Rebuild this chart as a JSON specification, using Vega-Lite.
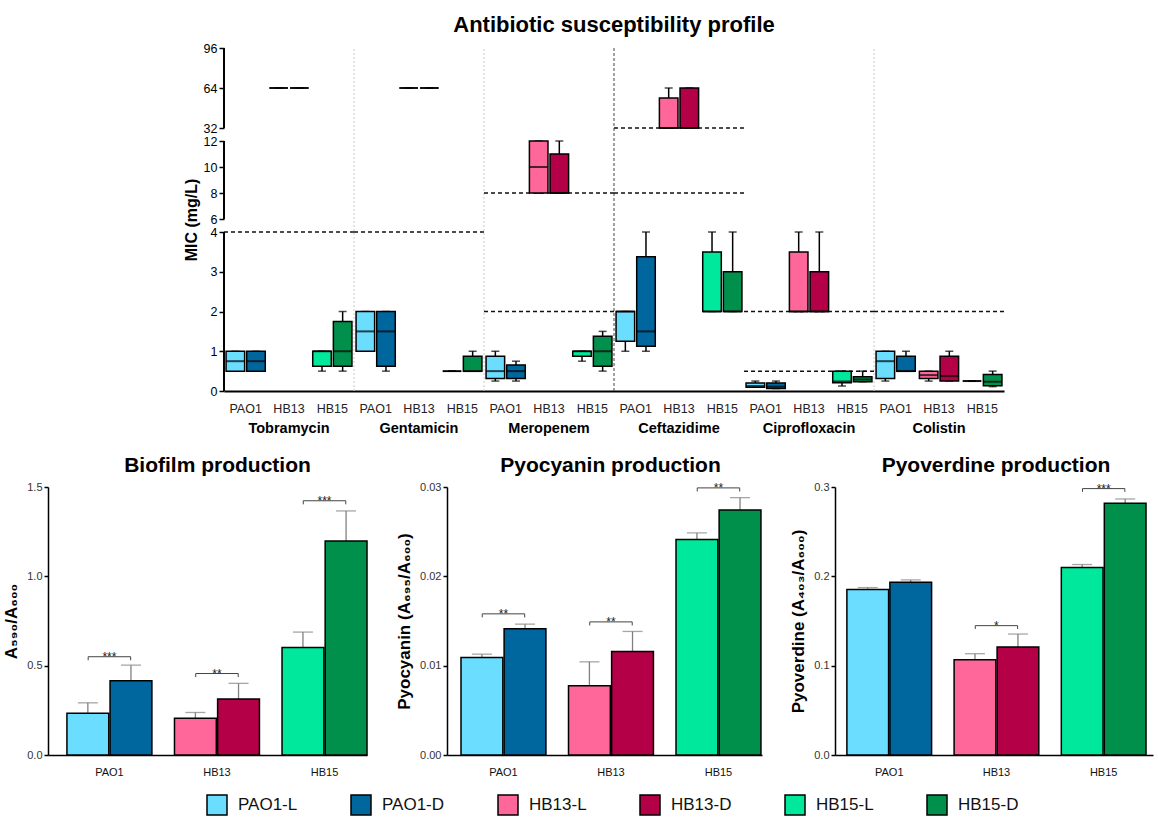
{
  "$schema": "https://vega.github.io/schema/vega-lite/v6.json",
  "padding": {"left": 2, "top": 14, "right": 2, "bottom": 2},
  "config": {
    "view": {"stroke": null},
    "font": "Liberation Sans",
    "axis": {"grid": false, "domainColor": "#000", "tickColor": "#000", "labelColor": "#1a1a1a", "titleColor": "#000", "labelFont": "Liberation Sans", "titleFont": "Liberation Sans", "titleFontWeight": "bold"},
    "title": {"font": "Liberation Sans", "fontWeight": "bold", "color": "#000", "anchor": "middle"}
  },
  "datasets": {
    "seps": [{"antibiotic": "Gentamicin"}, {"antibiotic": "Meropenem"}, {"antibiotic": "Ceftazidime"}, {"antibiotic": "Colistin"}],
    "breakpoints": [
      {"antibiotic": "Tobramycin", "value": 4}, {"antibiotic": "Gentamicin", "value": 4},
      {"antibiotic": "Meropenem", "value": 2}, {"antibiotic": "Meropenem", "value": 8},
      {"antibiotic": "Ceftazidime", "value": 8}, {"antibiotic": "Ceftazidime", "value": 32},
      {"antibiotic": "Ciprofloxacin", "value": 0.5}, {"antibiotic": "Ciprofloxacin", "value": 2},
      {"antibiotic": "Colistin", "value": 2}
    ],
    "segments": [{"lo": 0, "hi": 4}, {"lo": 6, "hi": 12}, {"lo": 32, "hi": 96}],
    "mic": [
      {"key": "Tobramycin|PAO1", "cond": "L", "group": "PAO1-L", "lo": 0.5, "q1": 0.5, "med": 0.75, "q3": 1, "hi": 1},
      {"key": "Tobramycin|PAO1", "cond": "D", "group": "PAO1-D", "lo": 0.5, "q1": 0.5, "med": 0.75, "q3": 1, "hi": 1},
      {"key": "Tobramycin|HB13", "cond": "L", "group": "HB13-L", "lo": 64, "q1": 64, "med": 64, "q3": 64, "hi": 64},
      {"key": "Tobramycin|HB13", "cond": "D", "group": "HB13-D", "lo": 64, "q1": 64, "med": 64, "q3": 64, "hi": 64},
      {"key": "Tobramycin|HB15", "cond": "L", "group": "HB15-L", "lo": 0.5, "q1": 0.625, "med": 1, "q3": 1, "hi": 1},
      {"key": "Tobramycin|HB15", "cond": "D", "group": "HB15-D", "lo": 0.5, "q1": 0.625, "med": 1, "q3": 1.75, "hi": 2},
      {"key": "Gentamicin|PAO1", "cond": "L", "group": "PAO1-L", "lo": 1, "q1": 1, "med": 1.5, "q3": 2, "hi": 2},
      {"key": "Gentamicin|PAO1", "cond": "D", "group": "PAO1-D", "lo": 0.5, "q1": 0.625, "med": 1.5, "q3": 2, "hi": 2},
      {"key": "Gentamicin|HB13", "cond": "L", "group": "HB13-L", "lo": 64, "q1": 64, "med": 64, "q3": 64, "hi": 64},
      {"key": "Gentamicin|HB13", "cond": "D", "group": "HB13-D", "lo": 64, "q1": 64, "med": 64, "q3": 64, "hi": 64},
      {"key": "Gentamicin|HB15", "cond": "L", "group": "HB15-L", "lo": 0.5, "q1": 0.5, "med": 0.5, "q3": 0.5, "hi": 0.5},
      {"key": "Gentamicin|HB15", "cond": "D", "group": "HB15-D", "lo": 0.5, "q1": 0.5, "med": 0.5, "q3": 0.875, "hi": 1},
      {"key": "Meropenem|PAO1", "cond": "L", "group": "PAO1-L", "lo": 0.25, "q1": 0.3125, "med": 0.5, "q3": 0.875, "hi": 1},
      {"key": "Meropenem|PAO1", "cond": "D", "group": "PAO1-D", "lo": 0.25, "q1": 0.3125, "med": 0.5, "q3": 0.656, "hi": 0.75},
      {"key": "Meropenem|HB13", "cond": "L", "group": "HB13-L", "lo": 8, "q1": 8, "med": 10, "q3": 12, "hi": 12},
      {"key": "Meropenem|HB13", "cond": "D", "group": "HB13-D", "lo": 8, "q1": 8, "med": 8, "q3": 11, "hi": 12},
      {"key": "Meropenem|HB15", "cond": "L", "group": "HB15-L", "lo": 0.75, "q1": 0.875, "med": 1, "q3": 1, "hi": 1},
      {"key": "Meropenem|HB15", "cond": "D", "group": "HB15-D", "lo": 0.5, "q1": 0.625, "med": 1, "q3": 1.375, "hi": 1.5},
      {"key": "Ceftazidime|PAO1", "cond": "L", "group": "PAO1-L", "lo": 1, "q1": 1.25, "med": 2, "q3": 2, "hi": 2},
      {"key": "Ceftazidime|PAO1", "cond": "D", "group": "PAO1-D", "lo": 1, "q1": 1.125, "med": 1.5, "q3": 3.375, "hi": 4},
      {"key": "Ceftazidime|HB13", "cond": "L", "group": "HB13-L", "lo": 32, "q1": 32, "med": 32, "q3": 56, "hi": 64},
      {"key": "Ceftazidime|HB13", "cond": "D", "group": "HB13-D", "lo": 32, "q1": 32, "med": 32, "q3": 64, "hi": 64},
      {"key": "Ceftazidime|HB15", "cond": "L", "group": "HB15-L", "lo": 2, "q1": 2, "med": 2, "q3": 3.5, "hi": 4},
      {"key": "Ceftazidime|HB15", "cond": "D", "group": "HB15-D", "lo": 2, "q1": 2, "med": 2, "q3": 3, "hi": 4},
      {"key": "Ciprofloxacin|PAO1", "cond": "L", "group": "PAO1-L", "lo": 0.094, "q1": 0.094, "med": 0.125, "q3": 0.203, "hi": 0.25},
      {"key": "Ciprofloxacin|PAO1", "cond": "D", "group": "PAO1-D", "lo": 0.0625, "q1": 0.0625, "med": 0.109, "q3": 0.203, "hi": 0.25},
      {"key": "Ciprofloxacin|HB13", "cond": "L", "group": "HB13-L", "lo": 2, "q1": 2, "med": 2, "q3": 3.5, "hi": 4},
      {"key": "Ciprofloxacin|HB13", "cond": "D", "group": "HB13-D", "lo": 2, "q1": 2, "med": 2, "q3": 3, "hi": 4},
      {"key": "Ciprofloxacin|HB15", "cond": "L", "group": "HB15-L", "lo": 0.125, "q1": 0.21, "med": 0.24, "q3": 0.5, "hi": 0.5},
      {"key": "Ciprofloxacin|HB15", "cond": "D", "group": "HB15-D", "lo": 0.233, "q1": 0.233, "med": 0.29, "q3": 0.36, "hi": 0.5},
      {"key": "Colistin|PAO1", "cond": "L", "group": "PAO1-L", "lo": 0.25, "q1": 0.3125, "med": 0.75, "q3": 1, "hi": 1},
      {"key": "Colistin|PAO1", "cond": "D", "group": "PAO1-D", "lo": 0.5, "q1": 0.5, "med": 0.5, "q3": 0.875, "hi": 1},
      {"key": "Colistin|HB13", "cond": "L", "group": "HB13-L", "lo": 0.25, "q1": 0.3125, "med": 0.4, "q3": 0.5, "hi": 0.5},
      {"key": "Colistin|HB13", "cond": "D", "group": "HB13-D", "lo": 0.25, "q1": 0.25, "med": 0.375, "q3": 0.875, "hi": 1},
      {"key": "Colistin|HB15", "cond": "L", "group": "HB15-L", "lo": 0.25, "q1": 0.25, "med": 0.25, "q3": 0.25, "hi": 0.25},
      {"key": "Colistin|HB15", "cond": "D", "group": "HB15-D", "lo": 0.11, "q1": 0.133, "med": 0.233, "q3": 0.417, "hi": 0.5}
    ],
    "biofilm": [
      {"strain": "PAO1", "cond": "L", "group": "PAO1-L", "mean": 0.233, "upper": 0.292},
      {"strain": "PAO1", "cond": "D", "group": "PAO1-D", "mean": 0.416, "upper": 0.503},
      {"strain": "HB13", "cond": "L", "group": "HB13-L", "mean": 0.206, "upper": 0.238},
      {"strain": "HB13", "cond": "D", "group": "HB13-D", "mean": 0.313, "upper": 0.401},
      {"strain": "HB15", "cond": "L", "group": "HB15-L", "mean": 0.602, "upper": 0.688},
      {"strain": "HB15", "cond": "D", "group": "HB15-D", "mean": 1.198, "upper": 1.366}
    ],
    "sig_biofilm": [
      {"strain": "PAO1", "y": 0.55, "foot": 0.53, "stars": "***"},
      {"strain": "HB13", "y": 0.456, "foot": 0.436, "stars": "**"},
      {"strain": "HB15", "y": 1.423, "foot": 1.403, "stars": "***"}
    ],
    "pyocyanin": [
      {"strain": "PAO1", "cond": "L", "group": "PAO1-L", "mean": 0.01092, "upper": 0.01129},
      {"strain": "PAO1", "cond": "D", "group": "PAO1-D", "mean": 0.01412, "upper": 0.01465},
      {"strain": "HB13", "cond": "L", "group": "HB13-L", "mean": 0.00775, "upper": 0.01043},
      {"strain": "HB13", "cond": "D", "group": "HB13-D", "mean": 0.01159, "upper": 0.01383},
      {"strain": "HB15", "cond": "L", "group": "HB15-L", "mean": 0.02411, "upper": 0.02486},
      {"strain": "HB15", "cond": "D", "group": "HB15-D", "mean": 0.02743, "upper": 0.02881}
    ],
    "sig_pyocyanin": [
      {"strain": "PAO1", "y": 0.0158, "foot": 0.0154, "stars": "**"},
      {"strain": "HB13", "y": 0.0149, "foot": 0.0145, "stars": "**"},
      {"strain": "HB15", "y": 0.0299, "foot": 0.0295, "stars": "**"}
    ],
    "pyoverdine": [
      {"strain": "PAO1", "cond": "L", "group": "PAO1-L", "mean": 0.1852, "upper": 0.1874},
      {"strain": "PAO1", "cond": "D", "group": "PAO1-D", "mean": 0.1934, "upper": 0.196},
      {"strain": "HB13", "cond": "L", "group": "HB13-L", "mean": 0.1066, "upper": 0.1134},
      {"strain": "HB13", "cond": "D", "group": "HB13-D", "mean": 0.1208, "upper": 0.1354},
      {"strain": "HB15", "cond": "L", "group": "HB15-L", "mean": 0.2099, "upper": 0.2132},
      {"strain": "HB15", "cond": "D", "group": "HB15-D", "mean": 0.2817, "upper": 0.2866}
    ],
    "sig_pyoverdine": [
      {"strain": "HB13", "y": 0.1448, "foot": 0.1411, "stars": "*"},
      {"strain": "HB15", "y": 0.2982, "foot": 0.2945, "stars": "***"}
    ]
  },
  "resolve": {"scale": {"xOffset": "independent"}},
  "spacing": 20,
  "vconcat": [
    {
      "spacing": 0,
      "hconcat": [
        {"width": 135, "height": 10, "data": {"values": []}, "mark": "point", "encoding": {}},
        {
          "width": 780, "height": 343,
          "title": {"text": "Antibiotic susceptibility profile", "fontSize": 22, "offset": 5},
          "resolve": {"scale": {"x": "independent"}, "axis": {"x": "independent"}},
          "layer": [
            {
              "data": {"name": "seps"},
              "transform": [{"filter": "datum.antibiotic != 'Ceftazidime'"}],
              "mark": {"type": "rule", "color": "#c8c8c8", "strokeWidth": 1, "strokeDash": [2, 2]},
              "encoding": {
                "x": {"field": "antibiotic", "type": "nominal", "bandPosition": 0, "scale": {"domain": ["Tobramycin", "Gentamicin", "Meropenem", "Ceftazidime", "Ciprofloxacin", "Colistin"], "paddingInner": 0, "paddingOuter": 0}, "axis": {"orient": "bottom", "title": null, "domain": false, "ticks": false, "labelAngle": 0, "labelPadding": 30, "labelFontSize": 14.5, "labelFontWeight": "bold", "labelColor": "#000"}},
                "y": {"datum": 0, "type": "quantitative", "scale": {"domain": [0, 4, 6, 12, 32, 96], "range": [343, 184, 171, 93, 80, 0], "nice": false, "zero": false}, "axis": {"values": [0, 1, 2, 3, 4, 6, 8, 10, 12, 32, 64, 96], "title": "MIC (mg/L)", "domain": false, "tickSize": 5, "tickWidth": 1.5, "labelPadding": 2, "labelFontSize": 12.5, "labelColor": "#000", "labelOverlap": false, "titleFontSize": 16, "titlePadding": 4}},
                "y2": {"datum": 96}
              }
            },
            {
              "data": {"name": "seps"},
              "transform": [{"filter": "datum.antibiotic == 'Ceftazidime'"}],
              "mark": {"type": "rule", "color": "#444", "strokeWidth": 1, "strokeDash": [3, 2]},
              "encoding": {
                "x": {"field": "antibiotic", "type": "nominal", "bandPosition": 0, "scale": {"domain": ["Tobramycin", "Gentamicin", "Meropenem", "Ceftazidime", "Ciprofloxacin", "Colistin"], "paddingInner": 0, "paddingOuter": 0}, "axis": null},
                "y": {"datum": 0, "type": "quantitative", "scale": {"domain": [0, 4, 6, 12, 32, 96], "range": [343, 184, 171, 93, 80, 0], "nice": false, "zero": false}, "axis": {"values": [0, 1, 2, 3, 4, 6, 8, 10, 12, 32, 64, 96], "title": "MIC (mg/L)", "domain": false, "tickSize": 5, "tickWidth": 1.5, "labelPadding": 2, "labelFontSize": 12.5, "labelColor": "#000", "labelOverlap": false, "titleFontSize": 16, "titlePadding": 4}},
                "y2": {"datum": 96}
              }
            },
            {
              "data": {"name": "breakpoints"},
              "mark": {"type": "rule", "color": "#111", "strokeWidth": 1.5, "strokeDash": [4, 3]},
              "encoding": {
                "x": {"field": "antibiotic", "type": "nominal", "bandPosition": 0, "scale": {"domain": ["Tobramycin", "Gentamicin", "Meropenem", "Ceftazidime", "Ciprofloxacin", "Colistin"], "paddingInner": 0, "paddingOuter": 0}, "axis": null},
                "x2": {"field": "antibiotic", "bandPosition": 1},
                "y": {"field": "value", "type": "quantitative", "scale": {"domain": [0, 4, 6, 12, 32, 96], "range": [343, 184, 171, 93, 80, 0], "nice": false, "zero": false}, "axis": {"values": [0, 1, 2, 3, 4, 6, 8, 10, 12, 32, 64, 96], "title": "MIC (mg/L)", "domain": false, "tickSize": 5, "tickWidth": 1.5, "labelPadding": 2, "labelFontSize": 12.5, "labelColor": "#000", "labelOverlap": false, "titleFontSize": 16, "titlePadding": 4}}
              }
            },
            {
              "data": {"name": "segments"},
              "mark": {"type": "rule", "color": "#000", "strokeWidth": 2},
              "encoding": {
                "x": {"datum": "Tobramycin", "type": "nominal", "bandPosition": 0, "scale": {"domain": ["Tobramycin", "Gentamicin", "Meropenem", "Ceftazidime", "Ciprofloxacin", "Colistin"], "paddingInner": 0, "paddingOuter": 0}, "axis": null},
                "y": {"field": "lo", "type": "quantitative", "scale": {"domain": [0, 4, 6, 12, 32, 96], "range": [343, 184, 171, 93, 80, 0], "nice": false, "zero": false}, "axis": {"values": [0, 1, 2, 3, 4, 6, 8, 10, 12, 32, 64, 96], "title": "MIC (mg/L)", "domain": false, "tickSize": 5, "tickWidth": 1.5, "labelPadding": 2, "labelFontSize": 12.5, "labelColor": "#000", "labelOverlap": false, "titleFontSize": 16, "titlePadding": 4}},
                "y2": {"field": "hi"}
              }
            },
            {
              "data": {"name": "mic"},
              "mark": {"type": "rule", "color": "#000", "strokeWidth": 1.5},
              "encoding": {
                "x": {"field": "key", "type": "nominal", "scale": {"domain": ["Tobramycin|PAO1", "Tobramycin|HB13", "Tobramycin|HB15", "Gentamicin|PAO1", "Gentamicin|HB13", "Gentamicin|HB15", "Meropenem|PAO1", "Meropenem|HB13", "Meropenem|HB15", "Ceftazidime|PAO1", "Ceftazidime|HB13", "Ceftazidime|HB15", "Ciprofloxacin|PAO1", "Ciprofloxacin|HB13", "Ciprofloxacin|HB15", "Colistin|PAO1", "Colistin|HB13", "Colistin|HB15"], "paddingInner": 0, "paddingOuter": 0}, "axis": null},
                "xOffset": {"field": "cond", "type": "nominal", "scale": {"domain": ["L", "D"], "paddingInner": 0.1, "paddingOuter": 0.1}},
                "y": {"field": "lo", "type": "quantitative", "scale": {"domain": [0, 4, 6, 12, 32, 96], "range": [343, 184, 171, 93, 80, 0], "nice": false, "zero": false}, "axis": {"values": [0, 1, 2, 3, 4, 6, 8, 10, 12, 32, 64, 96], "title": "MIC (mg/L)", "domain": false, "tickSize": 5, "tickWidth": 1.5, "labelPadding": 2, "labelFontSize": 12.5, "labelColor": "#000", "labelOverlap": false, "titleFontSize": 16, "titlePadding": 4}},
                "y2": {"field": "hi"}
              }
            },
            {
              "data": {"name": "mic"},
              "mark": {"type": "tick", "color": "#000", "size": 8, "thickness": 1.5},
              "encoding": {
                "x": {"field": "key", "type": "nominal", "scale": {"domain": ["Tobramycin|PAO1", "Tobramycin|HB13", "Tobramycin|HB15", "Gentamicin|PAO1", "Gentamicin|HB13", "Gentamicin|HB15", "Meropenem|PAO1", "Meropenem|HB13", "Meropenem|HB15", "Ceftazidime|PAO1", "Ceftazidime|HB13", "Ceftazidime|HB15", "Ciprofloxacin|PAO1", "Ciprofloxacin|HB13", "Ciprofloxacin|HB15", "Colistin|PAO1", "Colistin|HB13", "Colistin|HB15"], "paddingInner": 0, "paddingOuter": 0}, "axis": null},
                "xOffset": {"field": "cond", "type": "nominal", "scale": {"domain": ["L", "D"], "paddingInner": 0.1, "paddingOuter": 0.1}},
                "y": {"field": "hi", "type": "quantitative", "scale": {"domain": [0, 4, 6, 12, 32, 96], "range": [343, 184, 171, 93, 80, 0], "nice": false, "zero": false}, "axis": {"values": [0, 1, 2, 3, 4, 6, 8, 10, 12, 32, 64, 96], "title": "MIC (mg/L)", "domain": false, "tickSize": 5, "tickWidth": 1.5, "labelPadding": 2, "labelFontSize": 12.5, "labelColor": "#000", "labelOverlap": false, "titleFontSize": 16, "titlePadding": 4}}
              }
            },
            {
              "data": {"name": "mic"},
              "mark": {"type": "tick", "color": "#000", "size": 8, "thickness": 1.5},
              "encoding": {
                "x": {"field": "key", "type": "nominal", "scale": {"domain": ["Tobramycin|PAO1", "Tobramycin|HB13", "Tobramycin|HB15", "Gentamicin|PAO1", "Gentamicin|HB13", "Gentamicin|HB15", "Meropenem|PAO1", "Meropenem|HB13", "Meropenem|HB15", "Ceftazidime|PAO1", "Ceftazidime|HB13", "Ceftazidime|HB15", "Ciprofloxacin|PAO1", "Ciprofloxacin|HB13", "Ciprofloxacin|HB15", "Colistin|PAO1", "Colistin|HB13", "Colistin|HB15"], "paddingInner": 0, "paddingOuter": 0}, "axis": null},
                "xOffset": {"field": "cond", "type": "nominal", "scale": {"domain": ["L", "D"], "paddingInner": 0.1, "paddingOuter": 0.1}},
                "y": {"field": "lo", "type": "quantitative", "scale": {"domain": [0, 4, 6, 12, 32, 96], "range": [343, 184, 171, 93, 80, 0], "nice": false, "zero": false}, "axis": {"values": [0, 1, 2, 3, 4, 6, 8, 10, 12, 32, 64, 96], "title": "MIC (mg/L)", "domain": false, "tickSize": 5, "tickWidth": 1.5, "labelPadding": 2, "labelFontSize": 12.5, "labelColor": "#000", "labelOverlap": false, "titleFontSize": 16, "titlePadding": 4}}
              }
            },
            {
              "data": {"name": "mic"},
              "mark": {"type": "bar", "stroke": "#000", "strokeWidth": 1.5},
              "encoding": {
                "x": {"field": "key", "type": "nominal", "scale": {"domain": ["Tobramycin|PAO1", "Tobramycin|HB13", "Tobramycin|HB15", "Gentamicin|PAO1", "Gentamicin|HB13", "Gentamicin|HB15", "Meropenem|PAO1", "Meropenem|HB13", "Meropenem|HB15", "Ceftazidime|PAO1", "Ceftazidime|HB13", "Ceftazidime|HB15", "Ciprofloxacin|PAO1", "Ciprofloxacin|HB13", "Ciprofloxacin|HB15", "Colistin|PAO1", "Colistin|HB13", "Colistin|HB15"], "paddingInner": 0, "paddingOuter": 0}, "axis": {"orient": "bottom", "title": null, "ticks": false, "domainWidth": 2, "labelAngle": 0, "labelPadding": 11, "labelFontSize": 12.5, "labelColor": "#222", "labelExpr": "split(datum.value, '|')[1]"}},
                "xOffset": {"field": "cond", "type": "nominal", "scale": {"domain": ["L", "D"], "paddingInner": 0.1, "paddingOuter": 0.1}},
                "y": {"field": "q1", "type": "quantitative", "scale": {"domain": [0, 4, 6, 12, 32, 96], "range": [343, 184, 171, 93, 80, 0], "nice": false, "zero": false}, "axis": {"values": [0, 1, 2, 3, 4, 6, 8, 10, 12, 32, 64, 96], "title": "MIC (mg/L)", "domain": false, "tickSize": 5, "tickWidth": 1.5, "labelPadding": 2, "labelFontSize": 12.5, "labelColor": "#000", "labelOverlap": false, "titleFontSize": 16, "titlePadding": 4}},
                "y2": {"field": "q3"},
                "color": {"field": "group", "type": "nominal", "scale": {"domain": ["PAO1-L", "PAO1-D", "HB13-L", "HB13-D", "HB15-L", "HB15-D"], "range": ["#6BDDFF", "#00669E", "#FF6699", "#B40047", "#00E89C", "#00904B"]}}
              }
            },
            {
              "data": {"name": "mic"},
              "mark": {"type": "tick", "color": "#000", "size": 18.5, "thickness": 2},
              "encoding": {
                "x": {"field": "key", "type": "nominal", "scale": {"domain": ["Tobramycin|PAO1", "Tobramycin|HB13", "Tobramycin|HB15", "Gentamicin|PAO1", "Gentamicin|HB13", "Gentamicin|HB15", "Meropenem|PAO1", "Meropenem|HB13", "Meropenem|HB15", "Ceftazidime|PAO1", "Ceftazidime|HB13", "Ceftazidime|HB15", "Ciprofloxacin|PAO1", "Ciprofloxacin|HB13", "Ciprofloxacin|HB15", "Colistin|PAO1", "Colistin|HB13", "Colistin|HB15"], "paddingInner": 0, "paddingOuter": 0}, "axis": null},
                "xOffset": {"field": "cond", "type": "nominal", "scale": {"domain": ["L", "D"], "paddingInner": 0.1, "paddingOuter": 0.1}},
                "y": {"field": "med", "type": "quantitative", "scale": {"domain": [0, 4, 6, 12, 32, 96], "range": [343, 184, 171, 93, 80, 0], "nice": false, "zero": false}, "axis": {"values": [0, 1, 2, 3, 4, 6, 8, 10, 12, 32, 64, 96], "title": "MIC (mg/L)", "domain": false, "tickSize": 5, "tickWidth": 1.5, "labelPadding": 2, "labelFontSize": 12.5, "labelColor": "#000", "labelOverlap": false, "titleFontSize": 16, "titlePadding": 4}}
              }
            }
          ]
        }
      ]
    },
    {
      "spacing": 27,
      "resolve": {"scale": {"xOffset": "independent"}},
      "hconcat": [
        {
          "width": 319, "height": 268,
          "title": {"text": "Biofilm production", "fontSize": 21, "offset": 5, "dx": 10},
          "layer": [
            {
              "data": {"name": "biofilm"},
              "mark": {"type": "rule", "color": "#808080", "strokeWidth": 1.3},
              "encoding": {
                "x": {"field": "strain", "type": "nominal", "scale": {"domain": ["PAO1", "HB13", "HB15"], "paddingInner": 0.21, "paddingOuter": 0.088, "align": 1}, "axis": {"title": null, "labelAngle": 0, "ticks": false, "labelFontSize": 11, "labelPadding": 11, "domainWidth": 1.5, "labelColor": "#111"}},
                "xOffset": {"field": "cond", "type": "nominal", "scale": {"domain": ["L", "D"], "paddingInner": 0.03, "paddingOuter": 0}},
                "y": {"field": "mean", "type": "quantitative", "scale": {"domain": [0, 1.5], "nice": false}, "axis": {"values": [0, 0.5, 1, 1.5], "format": ".1f", "title": "A₅₉₀/A₆₀₀", "titleFontSize": 17, "titlePadding": 6, "labelFontSize": 11, "tickSize": 4, "tickWidth": 1.5, "domainWidth": 1.5, "labelPadding": 2, "labelColor": "#333"}},
                "y2": {"field": "upper"}
              }
            },
            {
              "data": {"name": "biofilm"},
              "mark": {"type": "tick", "color": "#808080", "size": 20, "thickness": 1.3},
              "encoding": {
                "x": {"field": "strain", "type": "nominal", "scale": {"domain": ["PAO1", "HB13", "HB15"], "paddingInner": 0.21, "paddingOuter": 0.088, "align": 1}},
                "xOffset": {"field": "cond", "type": "nominal", "scale": {"domain": ["L", "D"], "paddingInner": 0.03, "paddingOuter": 0}},
                "y": {"field": "upper", "type": "quantitative", "scale": {"domain": [0, 1.5], "nice": false}}
              }
            },
            {
              "data": {"name": "biofilm"},
              "mark": {"type": "bar", "stroke": "#000", "strokeWidth": 1.5},
              "encoding": {
                "x": {"field": "strain", "type": "nominal", "scale": {"domain": ["PAO1", "HB13", "HB15"], "paddingInner": 0.21, "paddingOuter": 0.088, "align": 1}},
                "xOffset": {"field": "cond", "type": "nominal", "scale": {"domain": ["L", "D"], "paddingInner": 0.03, "paddingOuter": 0}},
                "y": {"field": "mean", "type": "quantitative", "scale": {"domain": [0, 1.5], "nice": false}},
                "color": {"field": "group", "type": "nominal", "scale": {"domain": ["PAO1-L", "PAO1-D", "HB13-L", "HB13-D", "HB15-L", "HB15-D"], "range": ["#6BDDFF", "#00669E", "#FF6699", "#B40047", "#00E89C", "#00904B"]}, "legend": {"orient": "none", "legendX": 158, "legendY": 746, "direction": "horizontal", "title": null, "symbolType": "square", "symbolSize": 400, "symbolStrokeColor": "#000", "symbolStrokeWidth": 1.5, "symbolOpacity": 1, "labelFontSize": 17, "labelFont": "Liberation Sans", "labelColor": "#111", "columnPadding": 50, "labelOffset": 10}}
              }
            },
            {
              "data": {"name": "sig_biofilm"},
              "mark": {"type": "rule", "color": "#444", "strokeWidth": 1},
              "encoding": {
                "x": {"field": "strain", "type": "nominal", "bandPosition": 0.25, "scale": {"domain": ["PAO1", "HB13", "HB15"], "paddingInner": 0.21, "paddingOuter": 0.088, "align": 1}},
                "x2": {"field": "strain", "bandPosition": 0.75},
                "y": {"field": "y", "type": "quantitative", "scale": {"domain": [0, 1.5], "nice": false}}
              }
            },
            {
              "data": {"name": "sig_biofilm"},
              "mark": {"type": "rule", "color": "#444", "strokeWidth": 1},
              "encoding": {
                "x": {"field": "strain", "type": "nominal", "bandPosition": 0.25, "scale": {"domain": ["PAO1", "HB13", "HB15"], "paddingInner": 0.21, "paddingOuter": 0.088, "align": 1}},
                "y": {"field": "y", "type": "quantitative", "scale": {"domain": [0, 1.5], "nice": false}},
                "y2": {"field": "foot"}
              }
            },
            {
              "data": {"name": "sig_biofilm"},
              "mark": {"type": "rule", "color": "#444", "strokeWidth": 1},
              "encoding": {
                "x": {"field": "strain", "type": "nominal", "bandPosition": 0.75, "scale": {"domain": ["PAO1", "HB13", "HB15"], "paddingInner": 0.21, "paddingOuter": 0.088, "align": 1}},
                "y": {"field": "y", "type": "quantitative", "scale": {"domain": [0, 1.5], "nice": false}},
                "y2": {"field": "foot"}
              }
            },
            {
              "data": {"name": "sig_biofilm"},
              "mark": {"type": "text", "color": "#222", "fontSize": 12, "baseline": "alphabetic", "dy": 4},
              "encoding": {
                "x": {"field": "strain", "type": "nominal", "scale": {"domain": ["PAO1", "HB13", "HB15"], "paddingInner": 0.21, "paddingOuter": 0.088, "align": 1}},
                "y": {"field": "y", "type": "quantitative", "scale": {"domain": [0, 1.5], "nice": false}},
                "text": {"field": "stars"}
              }
            }
          ]
        },
        {
          "width": 315, "height": 268,
          "title": {"text": "Pyocyanin production", "fontSize": 21, "offset": 5, "dx": 6},
          "layer": [
            {
              "data": {"name": "pyocyanin"},
              "mark": {"type": "rule", "color": "#808080", "strokeWidth": 1.3},
              "encoding": {
                "x": {"field": "strain", "type": "nominal", "scale": {"domain": ["PAO1", "HB13", "HB15"], "paddingInner": 0.21, "paddingOuter": 0.07, "align": 0.93}, "axis": {"title": null, "labelAngle": 0, "ticks": false, "labelFontSize": 11, "labelPadding": 11, "domainWidth": 1.5, "labelColor": "#111"}},
                "xOffset": {"field": "cond", "type": "nominal", "scale": {"domain": ["L", "D"], "paddingInner": 0.03, "paddingOuter": 0}},
                "y": {"field": "mean", "type": "quantitative", "scale": {"domain": [0, 0.03], "nice": false}, "axis": {"values": [0, 0.01, 0.02, 0.03], "format": ".2f", "title": "Pyocyanin (A₆₉₅/A₆₀₀)", "titleFontSize": 17, "titlePadding": 6, "labelFontSize": 11, "tickSize": 4, "tickWidth": 1.5, "domainWidth": 1.5, "labelPadding": 2, "labelColor": "#333"}},
                "y2": {"field": "upper"}
              }
            },
            {
              "data": {"name": "pyocyanin"},
              "mark": {"type": "tick", "color": "#808080", "size": 20, "thickness": 1.3},
              "encoding": {
                "x": {"field": "strain", "type": "nominal", "scale": {"domain": ["PAO1", "HB13", "HB15"], "paddingInner": 0.21, "paddingOuter": 0.07, "align": 0.93}},
                "xOffset": {"field": "cond", "type": "nominal", "scale": {"domain": ["L", "D"], "paddingInner": 0.03, "paddingOuter": 0}},
                "y": {"field": "upper", "type": "quantitative", "scale": {"domain": [0, 0.03], "nice": false}}
              }
            },
            {
              "data": {"name": "pyocyanin"},
              "mark": {"type": "bar", "stroke": "#000", "strokeWidth": 1.5},
              "encoding": {
                "x": {"field": "strain", "type": "nominal", "scale": {"domain": ["PAO1", "HB13", "HB15"], "paddingInner": 0.21, "paddingOuter": 0.07, "align": 0.93}},
                "xOffset": {"field": "cond", "type": "nominal", "scale": {"domain": ["L", "D"], "paddingInner": 0.03, "paddingOuter": 0}},
                "y": {"field": "mean", "type": "quantitative", "scale": {"domain": [0, 0.03], "nice": false}},
                "color": {"field": "group", "type": "nominal", "scale": {"domain": ["PAO1-L", "PAO1-D", "HB13-L", "HB13-D", "HB15-L", "HB15-D"], "range": ["#6BDDFF", "#00669E", "#FF6699", "#B40047", "#00E89C", "#00904B"]}}
              }
            },
            {
              "data": {"name": "sig_pyocyanin"},
              "mark": {"type": "rule", "color": "#444", "strokeWidth": 1},
              "encoding": {
                "x": {"field": "strain", "type": "nominal", "bandPosition": 0.25, "scale": {"domain": ["PAO1", "HB13", "HB15"], "paddingInner": 0.21, "paddingOuter": 0.07, "align": 0.93}},
                "x2": {"field": "strain", "bandPosition": 0.75},
                "y": {"field": "y", "type": "quantitative", "scale": {"domain": [0, 0.03], "nice": false}}
              }
            },
            {
              "data": {"name": "sig_pyocyanin"},
              "mark": {"type": "rule", "color": "#444", "strokeWidth": 1},
              "encoding": {
                "x": {"field": "strain", "type": "nominal", "bandPosition": 0.25, "scale": {"domain": ["PAO1", "HB13", "HB15"], "paddingInner": 0.21, "paddingOuter": 0.07, "align": 0.93}},
                "y": {"field": "y", "type": "quantitative", "scale": {"domain": [0, 0.03], "nice": false}},
                "y2": {"field": "foot"}
              }
            },
            {
              "data": {"name": "sig_pyocyanin"},
              "mark": {"type": "rule", "color": "#444", "strokeWidth": 1},
              "encoding": {
                "x": {"field": "strain", "type": "nominal", "bandPosition": 0.75, "scale": {"domain": ["PAO1", "HB13", "HB15"], "paddingInner": 0.21, "paddingOuter": 0.07, "align": 0.93}},
                "y": {"field": "y", "type": "quantitative", "scale": {"domain": [0, 0.03], "nice": false}},
                "y2": {"field": "foot"}
              }
            },
            {
              "data": {"name": "sig_pyocyanin"},
              "mark": {"type": "text", "color": "#222", "fontSize": 12, "baseline": "alphabetic", "dy": 4},
              "encoding": {
                "x": {"field": "strain", "type": "nominal", "scale": {"domain": ["PAO1", "HB13", "HB15"], "paddingInner": 0.21, "paddingOuter": 0.07, "align": 0.93}},
                "y": {"field": "y", "type": "quantitative", "scale": {"domain": [0, 0.03], "nice": false}},
                "text": {"field": "stars"}
              }
            }
          ]
        },
        {
          "width": 318, "height": 268,
          "title": {"text": "Pyoverdine production", "fontSize": 21, "offset": 5, "dx": 2},
          "layer": [
            {
              "data": {"name": "pyoverdine"},
              "mark": {"type": "rule", "color": "#808080", "strokeWidth": 1.3},
              "encoding": {
                "x": {"field": "strain", "type": "nominal", "scale": {"domain": ["PAO1", "HB13", "HB15"], "paddingInner": 0.21, "paddingOuter": 0.088, "align": 0.63}, "axis": {"title": null, "labelAngle": 0, "ticks": false, "labelFontSize": 11, "labelPadding": 11, "domainWidth": 1.5, "labelColor": "#111"}},
                "xOffset": {"field": "cond", "type": "nominal", "scale": {"domain": ["L", "D"], "paddingInner": 0.03, "paddingOuter": 0}},
                "y": {"field": "mean", "type": "quantitative", "scale": {"domain": [0, 0.3], "nice": false}, "axis": {"values": [0, 0.1, 0.2, 0.3], "format": ".1f", "title": "Pyoverdine (A₄₀₃/A₆₀₀)", "titleFontSize": 17, "titlePadding": 6, "labelFontSize": 11, "tickSize": 4, "tickWidth": 1.5, "domainWidth": 1.5, "labelPadding": 2, "labelColor": "#333"}},
                "y2": {"field": "upper"}
              }
            },
            {
              "data": {"name": "pyoverdine"},
              "mark": {"type": "tick", "color": "#808080", "size": 20, "thickness": 1.3},
              "encoding": {
                "x": {"field": "strain", "type": "nominal", "scale": {"domain": ["PAO1", "HB13", "HB15"], "paddingInner": 0.21, "paddingOuter": 0.088, "align": 0.63}},
                "xOffset": {"field": "cond", "type": "nominal", "scale": {"domain": ["L", "D"], "paddingInner": 0.03, "paddingOuter": 0}},
                "y": {"field": "upper", "type": "quantitative", "scale": {"domain": [0, 0.3], "nice": false}}
              }
            },
            {
              "data": {"name": "pyoverdine"},
              "mark": {"type": "bar", "stroke": "#000", "strokeWidth": 1.5},
              "encoding": {
                "x": {"field": "strain", "type": "nominal", "scale": {"domain": ["PAO1", "HB13", "HB15"], "paddingInner": 0.21, "paddingOuter": 0.088, "align": 0.63}},
                "xOffset": {"field": "cond", "type": "nominal", "scale": {"domain": ["L", "D"], "paddingInner": 0.03, "paddingOuter": 0}},
                "y": {"field": "mean", "type": "quantitative", "scale": {"domain": [0, 0.3], "nice": false}},
                "color": {"field": "group", "type": "nominal", "scale": {"domain": ["PAO1-L", "PAO1-D", "HB13-L", "HB13-D", "HB15-L", "HB15-D"], "range": ["#6BDDFF", "#00669E", "#FF6699", "#B40047", "#00E89C", "#00904B"]}}
              }
            },
            {
              "data": {"name": "sig_pyoverdine"},
              "mark": {"type": "rule", "color": "#444", "strokeWidth": 1},
              "encoding": {
                "x": {"field": "strain", "type": "nominal", "bandPosition": 0.25, "scale": {"domain": ["PAO1", "HB13", "HB15"], "paddingInner": 0.21, "paddingOuter": 0.088, "align": 0.63}},
                "x2": {"field": "strain", "bandPosition": 0.75},
                "y": {"field": "y", "type": "quantitative", "scale": {"domain": [0, 0.3], "nice": false}}
              }
            },
            {
              "data": {"name": "sig_pyoverdine"},
              "mark": {"type": "rule", "color": "#444", "strokeWidth": 1},
              "encoding": {
                "x": {"field": "strain", "type": "nominal", "bandPosition": 0.25, "scale": {"domain": ["PAO1", "HB13", "HB15"], "paddingInner": 0.21, "paddingOuter": 0.088, "align": 0.63}},
                "y": {"field": "y", "type": "quantitative", "scale": {"domain": [0, 0.3], "nice": false}},
                "y2": {"field": "foot"}
              }
            },
            {
              "data": {"name": "sig_pyoverdine"},
              "mark": {"type": "rule", "color": "#444", "strokeWidth": 1},
              "encoding": {
                "x": {"field": "strain", "type": "nominal", "bandPosition": 0.75, "scale": {"domain": ["PAO1", "HB13", "HB15"], "paddingInner": 0.21, "paddingOuter": 0.088, "align": 0.63}},
                "y": {"field": "y", "type": "quantitative", "scale": {"domain": [0, 0.3], "nice": false}},
                "y2": {"field": "foot"}
              }
            },
            {
              "data": {"name": "sig_pyoverdine"},
              "mark": {"type": "text", "color": "#222", "fontSize": 12, "baseline": "alphabetic", "dy": 4},
              "encoding": {
                "x": {"field": "strain", "type": "nominal", "scale": {"domain": ["PAO1", "HB13", "HB15"], "paddingInner": 0.21, "paddingOuter": 0.088, "align": 0.63}},
                "y": {"field": "y", "type": "quantitative", "scale": {"domain": [0, 0.3], "nice": false}},
                "text": {"field": "stars"}
              }
            }
          ]
        }
      ]
    }
  ]
}
